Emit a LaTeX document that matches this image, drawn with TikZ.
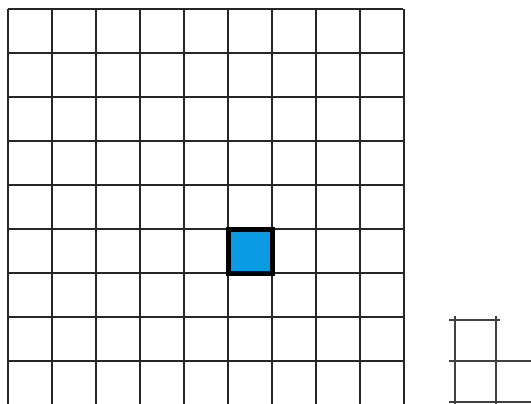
\documentclass[tikz,border=0pt]{standalone}
\usepackage{xcolor}
\usepackage{tikz}
\definecolor{cellblue}{HTML}{0A9BE4}

\begin{document}
\begin{tikzpicture}[
  x=1pt,y=-1pt,
  gridline/.style={draw=black!85,line width=1.8pt},
  smallline/.style={draw=black!75,line width=1.6pt},
  marked/.style={draw=black,line width=5pt,fill=cellblue}
]
\useasboundingbox (0,0) rectangle (531,404);
% big 9x9 grid
\foreach \i in {0,...,9} {
  \draw[gridline] (8+44*\i,9) -- (8+44*\i,405);
  \draw[gridline] (8,9+44*\i) -- (403,9+44*\i);
}
% marked cell
\draw[marked] (228,229) rectangle (272,273);
% small grid at the right
\foreach \x in {455,496}
  \draw[smallline] (\x,316) -- (\x,406);
\draw[smallline] (449,320) -- (500,320);
\foreach \y in {361,402}
  \draw[smallline] (449,\y) -- (531,\y);
\end{tikzpicture}
\end{document}
